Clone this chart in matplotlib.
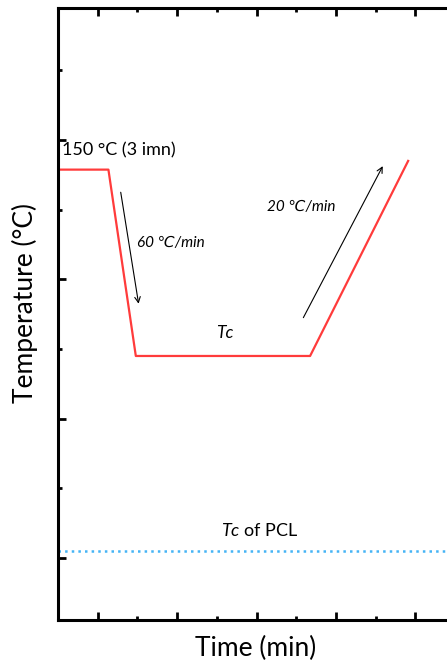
import matplotlib
matplotlib.use("Agg")
import matplotlib.pyplot as plt
from matplotlib.ticker import FixedLocator

plt.rcParams['font.family'] = ['Lato', 'DejaVu Sans']
plt.rcParams['mathtext.fontset'] = 'custom'
plt.rcParams['mathtext.rm'] = 'Lato'
plt.rcParams['mathtext.it'] = 'Lato:italic'

# thermal program: hold, quench to Tc, isothermal, reheat
time_pts = [0.0, 1.27, 1.96, 6.35, 8.82]
temp_pts = [151.5, 151.5, 98, 98, 154]
tc_pcl = 42

cool_arrow = [(1.58, 145), (2.03, 113)]
heat_arrow = [(6.18, 109), (8.18, 152.5)]

x_major = [1, 3, 5, 7, 9]
x_minor = [2, 4, 6, 8, 10]
y_major = [40, 80, 120, 160]
y_minor = [60, 100, 140, 180]

fig = plt.figure(figsize=(4.47, 6.64), dpi=100)
ax = fig.add_axes([58 / 447, 44 / 664, 10.5 * 39.7 / 447, 612 / 664])

ax.plot(time_pts, temp_pts, color='#ff3b3b', lw=1.6)
ax.axhline(tc_pcl, color='#45b4f5', lw=1.8, ls=':')

for (x0, y0), (x1, y1) in [cool_arrow, heat_arrow]:
    ax.annotate('', xy=(x1, y1), xytext=(x0, y0),
                arrowprops=dict(arrowstyle='->', color='black', lw=0.8,
                                shrinkA=0, shrinkB=0, mutation_scale=10))

ax.text(0.1, 157, '150 °C (3 imn)', fontsize=13, va='center', ha='left')
ax.text(1.99, 130.4, '60 ℃/min', fontsize=11, style='italic', va='center', ha='left',
        family=['Lato', 'DejaVu Sans'])
ax.text(6.12, 140.8, '20 ℃/min', fontsize=11, style='italic', va='center', ha='center',
        family=['Lato', 'DejaVu Sans'])
ax.text(4.21, 104.7, 'Tc', fontsize=12.5, style='italic', va='center', ha='center')
ax.text(5.09, 47.8, r'$\mathit{Tc}$ of PCL', fontsize=13, va='center', ha='center')

ax.set_xlim(0, 10.5)
ax.set_ylim(22.2, 197.9)
ax.xaxis.set_major_locator(FixedLocator(x_major))
ax.xaxis.set_minor_locator(FixedLocator(x_minor))
ax.yaxis.set_major_locator(FixedLocator(y_major))
ax.yaxis.set_minor_locator(FixedLocator(y_minor))
ax.tick_params(which='both', direction='in', top=True, right=True,
               labelbottom=False, labelleft=False, width=2, color='black')
ax.tick_params(which='major', length=6)
ax.tick_params(which='minor', length=3)
for s in ax.spines.values():
    s.set_linewidth(2.2)

fig.text(256 / 447, 1 - 648 / 664, 'Time (min)', fontsize=19, ha='center', va='center')
fig.text(25 / 447, 1 - 303 / 664, 'Temperature (°C)', fontsize=19, ha='center',
         va='center', rotation=90)

fig.savefig('out.png', dpi=100)
